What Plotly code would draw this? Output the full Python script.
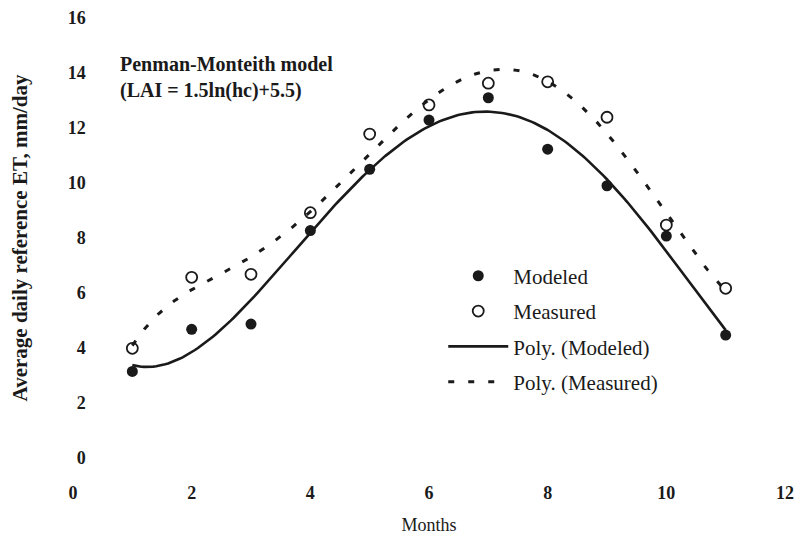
import numpy as np
import plotly.graph_objects as go

# ---- data ----
months = [1, 2, 3, 4, 5, 6, 7, 8, 9, 10, 11]
modeled = [3.15, 4.68, 4.87, 8.27, 10.5, 12.29, 13.1, 11.23, 9.9, 8.07, 4.47]
measured = [3.99, 6.57, 6.68, 8.92, 11.78, 12.84, 13.63, 13.68, 12.39, 8.47, 6.17]
x_ticks = [0, 2, 4, 6, 8, 10, 12]
y_ticks = [0, 2, 4, 6, 8, 10, 12, 14, 16]
order_modeled = 5
order_measured = 6

# polynomial trendlines (as in the spreadsheet "Poly." trendlines)
xs = np.linspace(min(months), max(months), 200)
fit_mod = np.polyval(np.polyfit(months, modeled, order_modeled), xs)
fit_mea = np.polyval(np.polyfit(months, measured, order_measured), xs)

INK = "#1a1a1a"
SERIF = "Liberation Serif, Times New Roman, serif"

fig = go.Figure()
fig.add_trace(go.Scatter(x=months, y=modeled, mode="markers", name="Modeled",
                         legendgroup="a",
                         marker=dict(symbol="circle", size=11, color=INK)))
fig.add_trace(go.Scatter(x=months, y=measured, mode="markers", name="Measured",
                         legendgroup="b",
                         marker=dict(symbol="circle-open", size=11, color=INK,
                                     line=dict(width=1.8, color=INK))))
fig.add_trace(go.Scatter(x=xs, y=fit_mod, mode="lines", name="Poly. (Modeled)",
                         legendgroup="c",
                         line=dict(color=INK, width=2.6)))
fig.add_trace(go.Scatter(x=xs, y=fit_mea, mode="lines", name="Poly. (Measured)",
                         legendgroup="d",
                         line=dict(color=INK, width=3, dash="6px,14px")))

fig.add_annotation(x=0.76, y=13.82, xref="x", yref="y", xanchor="left", yanchor="middle",
                   align="left", showarrow=False,
                   text="<b>Penman-Monteith model<br>(LAI = 1.5ln(hc)+5.5)</b>",
                   font=dict(family=SERIF, size=20, color=INK))

# the page body adds an 8px offset, so margins are compensated
fig.update_layout(
    width=802, height=544,
    margin=dict(l=65, r=25, t=10, b=94),
    paper_bgcolor="white", plot_bgcolor="white",
    font=dict(family=SERIF, color=INK),
    showlegend=True,
    legend=dict(x=0.52, y=0.46, xanchor="left", yanchor="top", itemwidth=60,
                bgcolor="rgba(0,0,0,0)", tracegroupgap=5,
                font=dict(family=SERIF, size=21, color=INK)),
    xaxis=dict(range=[0, 12], tickvals=x_ticks, showgrid=False, zeroline=False,
               showline=False, ticks="", ticklabelstandoff=22, automargin=False,
               tickfont=dict(family=SERIF, size=18, color=INK, weight="bold"),
               title=dict(text="Months", standoff=16,
                          font=dict(family=SERIF, size=18, color=INK))),
    yaxis=dict(range=[0, 16], tickvals=y_ticks, showgrid=False, zeroline=False,
               showline=False, ticks="", anchor="free", position=0.018, automargin=False,
               tickfont=dict(family=SERIF, size=18, color=INK, weight="bold"),
               title=dict(text="<b>Average daily reference ET, mm/day</b>", standoff=38,
                          font=dict(family=SERIF, size=21, color=INK))),
)

fig.write_html("out.html")
